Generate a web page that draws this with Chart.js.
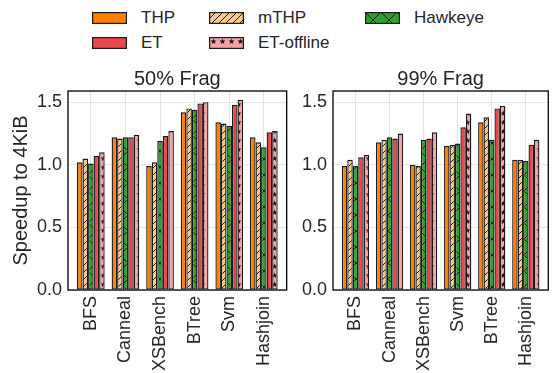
<!DOCTYPE html>
<html>
<head>
<meta charset="utf-8">
<script src="https://cdn.jsdelivr.net/npm/chart.js@4/dist/chart.umd.min.js"></script>
<style>
  body { margin: 0; background: #fff; width: 554px; height: 373px; position: relative; overflow: hidden;
         font-family: "Liberation Sans", Arial, sans-serif; color: #262626; }
  .box { position: absolute; }
  .lg-item { position: absolute; display: flex; align-items: center; font-size: 17px; white-space: nowrap; }
  .lg-item canvas { margin-right: 14px; }
</style>
</head>
<body>
<div id="legend"></div>
<div class="box" style="left:0;top:55px;width:292px;height:318px"><canvas id="frag50"></canvas></div>
<div class="box" style="left:292px;top:55px;width:262px;height:318px"><canvas id="frag99"></canvas></div>
<script>
// categories
const cats50 = ['BFS', 'Canneal', 'XSBench', 'BTree', 'Svm', 'Hashjoin'];
const cats99 = ['BFS', 'Canneal', 'XSBench', 'Svm', 'BTree', 'Hashjoin'];

// 50% fragmentation
const thp50   = [1.02, 1.22, 0.99, 1.42, 1.34, 1.22];
const mthp50  = [1.05, 1.21, 1.02, 1.45, 1.33, 1.18];
const hawk50  = [1.01, 1.22, 1.19, 1.44, 1.31, 1.14];
const et50    = [1.07, 1.22, 1.23, 1.49, 1.48, 1.26];
const etoff50 = [1.10, 1.24, 1.27, 1.50, 1.52, 1.27];

// 99% fragmentation
const thp99   = [0.99, 1.18, 1.00, 1.15, 1.34, 1.04];
const mthp99  = [1.04, 1.20, 0.99, 1.16, 1.38, 1.04];
const hawk99  = [0.99, 1.22, 1.20, 1.17, 1.20, 1.03];
const et99    = [1.06, 1.21, 1.21, 1.30, 1.45, 1.16];
const etoff99 = [1.08, 1.25, 1.26, 1.41, 1.47, 1.20];

const yTicks = [0, 0.5, 1.0, 1.5];

Chart.defaults.font.family = '"Liberation Sans", Arial, sans-serif';
Chart.defaults.color = '#262626';

function makePattern(kind, bg) {
    const s = kind === 'cross' ? 16 : (kind === 'stars' ? 9 : 7);
    const c = document.createElement('canvas');
    c.width = s; c.height = s;
    const g = c.getContext('2d');
    g.fillStyle = bg;
    g.fillRect(0, 0, s, s);
    g.strokeStyle = '#1a1a1a';
    g.fillStyle = '#111';
    g.lineWidth = 1.0;
    if (kind === 'slash') {
        g.beginPath();
        g.moveTo(0, s); g.lineTo(s, 0);
        g.moveTo(-1, 1); g.lineTo(1, -1);
        g.moveTo(s - 1, s + 1); g.lineTo(s + 1, s - 1);
        g.stroke();
    } else if (kind === 'cross') {
        g.beginPath();
        g.moveTo(0, 0); g.lineTo(s, s);
        g.moveTo(0, s); g.lineTo(s, 0);
        g.stroke();
    } else if (kind === 'stars') {
        const cx = s / 2, cy = s / 2, r1 = 3.1, r2 = 1.3;
        g.beginPath();
        for (let i = 0; i < 10; i++) {
            const r = i % 2 ? r2 : r1;
            const a = -Math.PI / 2 + i * Math.PI / 5;
            g.lineTo(cx + r * Math.cos(a), cy + r * Math.sin(a));
        }
        g.closePath();
        g.fill();
    }
    return g.createPattern(c, 'repeat');
}

const series = [
    { key: 'THP',        color: '#ff8000', hatch: null },
    { key: 'mTHP',       color: '#fdc98a', hatch: 'slash' },
    { key: 'Hawkeye',    color: '#2ca02c', hatch: 'cross' },
    { key: 'ET',         color: '#e8474c', hatch: null },
    { key: 'ET-offline', color: '#f4a3a6', hatch: 'stars' }
];
const fills = series.map(s => s.hatch ? makePattern(s.hatch, s.color) : s.color);

// frame around plot area
const framePlugin = {
    id: 'frame',
    afterDraw(chart) {
        const a = chart.chartArea, ctx = chart.ctx;
        ctx.save();
        ctx.strokeStyle = '#000';
        ctx.lineWidth = 1.3;
        ctx.strokeRect(a.left, a.top, a.right - a.left, a.bottom - a.top);
        ctx.restore();
    }
};

function buildChart(canvasId, title, cats, values, showYTitle, yWidth, padRight) {
    const ctx = document.getElementById(canvasId).getContext('2d');
    return new Chart(ctx, {
        type: 'bar',
        data: {
            datasets: series.map((s, k) => ({
                label: s.key,
                data: values[k].map((v, i) => ({ x: i, y: v })),
                backgroundColor: fills[k],
                borderColor: '#1a1a1a',
                borderWidth: 1.35,
                borderSkipped: false,
                barPercentage: 1.0,
                categoryPercentage: 0.8
            }))
        },
        options: {
            responsive: true,
            maintainAspectRatio: false,
            animation: false,
            layout: { padding: { left: 0, right: padRight, top: 0, bottom: 0 } },
            plugins: {
                legend: { display: false },
                tooltip: { enabled: false },
                title: {
                    display: true,
                    text: title,
                    fullSize: false,
                    font: { size: 20, weight: 'normal' },
                    color: '#262626',
                    padding: { top: 12, bottom: 0 }
                }
            },
            scales: {
                x: {
                    type: 'linear',
                    min: -0.66,
                    max: 5.66,
                    offset: false,
                    grid: { color: '#e2e2e2', lineWidth: 0.9, drawTicks: false, offset: false },
                    border: { display: false },
                    afterBuildTicks: (s) => { s.ticks = cats.map((_, i) => ({ value: i })); },
                    afterFit: (s) => { s.height = 83; },
                    ticks: {
                        autoSkip: false,
                        minRotation: 90,
                        maxRotation: 90,
                        padding: 6,
                        font: { size: 18 },
                        color: '#262626',
                        callback: (v, i) => cats[i]
                    }
                },
                y: {
                    min: 0,
                    max: 1.59,
                    grid: { color: '#e2e2e2', lineWidth: 0.9, drawTicks: false },
                    border: { display: false },
                    afterBuildTicks: (s) => { s.ticks = yTicks.map(v => ({ value: v })); },
                    afterFit: (s) => { s.width = yWidth; },
                    title: {
                        display: showYTitle,
                        text: 'Speedup to 4KiB',
                        font: { size: 20 },
                        color: '#262626',
                        padding: { top: 9, bottom: 0 }
                    },
                    ticks: {
                        padding: 6,
                        font: { size: 18 },
                        color: '#262626',
                        callback: (v) => v.toFixed(1)
                    }
                }
            }
        },
        plugins: [framePlugin]
    });
}

buildChart('frag50', '50% Frag', cats50, [thp50, mthp50, hawk50, et50, etoff50], true, 68, 3);
buildChart('frag99', '99% Frag', cats99, [thp99, mthp99, hawk99, et99, etoff99], false, 41, 1);

// legend, laid out in columns as in the original
const legendPos = {
    'THP':        [92, 12],
    'ET':         [92, 37],
    'mTHP':       [209, 12],
    'ET-offline': [209, 37],
    'Hawkeye':    [365, 12]
};
const legend = document.getElementById('legend');
series.forEach((s, k) => {
    const [x, y] = legendPos[s.key];
    const item = document.createElement('div');
    item.className = 'lg-item';
    item.style.left = x + 'px';
    item.style.top = (y - 4) + 'px';
    item.style.height = '20px';
    const sw = document.createElement('canvas');
    sw.width = 35; sw.height = 12;
    const g = sw.getContext('2d');
    g.fillStyle = fills[k];
    g.fillRect(0, 0, 35, 12);
    g.strokeStyle = '#1a1a1a';
    g.lineWidth = 1.2;
    g.strokeRect(0.6, 0.6, 33.8, 10.8);
    item.appendChild(sw);
    const t = document.createElement('span');
    t.textContent = s.key;
    item.appendChild(t);
    legend.appendChild(item);
});
</script>
</body>
</html>
